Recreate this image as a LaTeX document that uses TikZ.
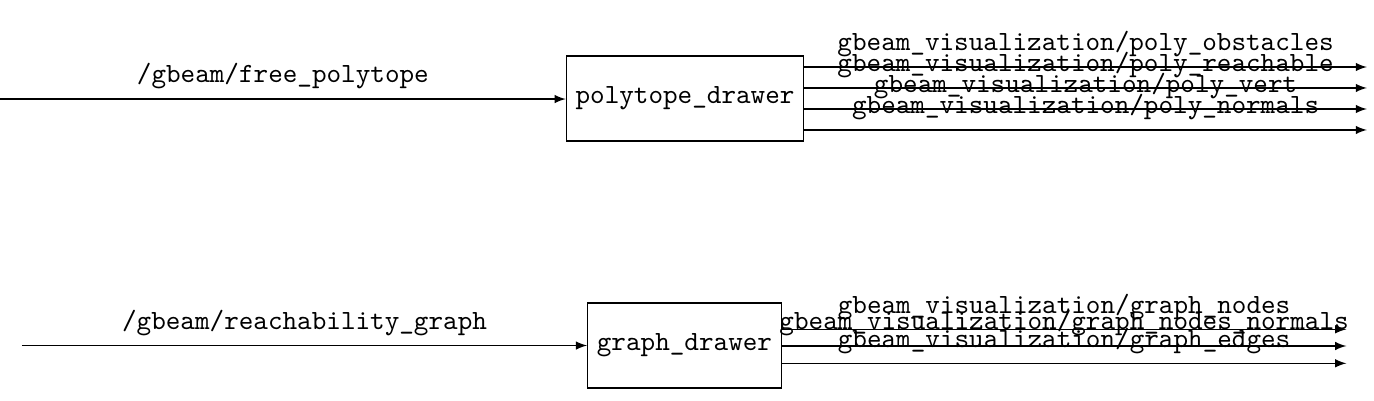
\documentclass[tikz,border=0pt]{standalone}
\usepackage{amsmath}
\usepackage{tikz}
\usetikzlibrary{positioning}

\begin{document}
\begin{tikzpicture}[>=latex, font=\ttfamily, main node/.style={rectangle,draw,minimum height=1.075cm}]
        \useasboundingbox (0,0) rectangle (17.37,-5.057);
        \node[main node] (poly) at (8.66,-1.245) {polytope\_drawer};
        \node[main node] (graph) at (8.653,-4.368) {graph\_drawer};
        \coordinate (polyin) at (0,-1.252);
        \coordinate (graphin) at (0.278,-4.368);
        \coordinate (polyend) at (17.28,0);
        \coordinate (graphend) at (17.02,0);
        \draw[->] (polyin) -- node[above] {/gbeam/free\_polytope} (polyin -| poly.west);
        \draw[->] (graphin) -- node[above] {/gbeam/reachability\_graph} (graph.west);
        % polytope outputs
        \foreach \i/\dy/\txt in {1/0.398/poly\_obstacles, 2/0.133/poly\_reachable, 3/-0.133/poly\_vert, 4/-0.398/poly\_normals} {
            \coordinate (pout\i) at ([yshift=\dy cm]poly.east);
            \draw[->] (pout\i) -- node[above] {gbeam\_visualization/\txt} (pout\i -| polyend);
        }
        % graph outputs
        \foreach \i/\dy/\txt in {1/0.205/graph\_nodes, 2/-0.006/graph\_nodes\_normals, 3/-0.225/graph\_edges} {
            \coordinate (gout\i) at ([yshift=\dy cm]graph.east);
            \draw[->] (gout\i) -- node[above] {gbeam\_visualization/\txt} (gout\i -| graphend);
        }
    \end{tikzpicture}
\end{document}
